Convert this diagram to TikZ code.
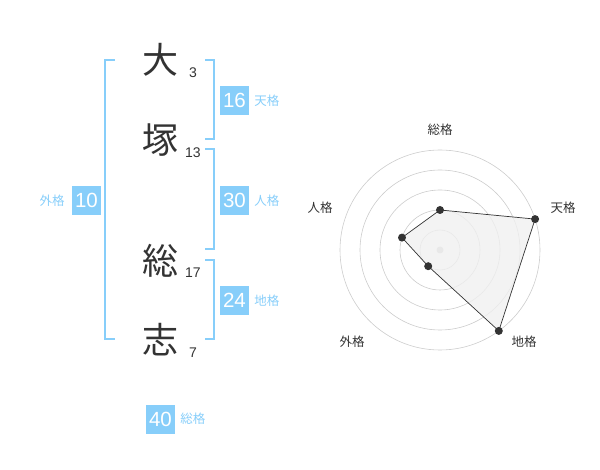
\documentclass[tikz,border=0pt]{standalone}
\usepackage{fontspec}
\setmainfont{Liberation Sans}
\newfontfamily\cjk{Noto Sans CJK JP}
\definecolor{sky}{HTML}{87CEFA}
\definecolor{ink}{HTML}{333333}
\definecolor{ringgray}{HTML}{CCCCCC}
\definecolor{areagray}{HTML}{F0F0F0}
\begin{document}
\begin{tikzpicture}[x=1pt,y=-1pt]
\useasboundingbox (0,0) rectangle (600,470);
\tikzset{
 kanji/.style={font=\cjk\fontsize{36}{36}\selectfont, text=ink, inner sep=0},
 strk/.style={font=\fontsize{14}{14}\selectfont, text=ink, inner sep=0},
 numbox/.style={fill=sky, text=white, minimum width=29pt, minimum height=29pt, inner sep=0, font=\fontsize{20.5}{20.5}\selectfont},
 kaku/.style={text=sky, font=\cjk\fontsize{12.5}{12.5}\selectfont, inner sep=0},
 brk/.style={draw=sky, line width=2pt},
 ring/.style={draw=ringgray, line width=0.6pt},
 axlab/.style={text=ink, font=\cjk\fontsize{12.5}{12.5}\selectfont, inner sep=0},
 vdot/.style={circle, fill=ink, inner sep=0, minimum size=8pt}
}
% characters
\node[kanji] (k1) at (160,60) {大};
\node[kanji] (k2) at (160,140) {塚};
\node[kanji] (k3) at (160,261) {総};
\node[kanji] (k4) at (160,340) {志};
\node[strk] (s1) at (193,73) {3};
\node[strk] (s2) at (193,153) {13};
\node[strk] (s3) at (193,273) {17};
\node[strk] (s4) at (193,353) {7};
% brackets
\draw[brk] (115,60) -- (105,60) -- (105,339) -- (115,339);
\draw[brk] (205,60) -- (214,60) -- (214,139) -- (205,139);
\draw[brk] (205,149) -- (214,149) -- (214,249) -- (205,249);
\draw[brk] (205,260) -- (214,260) -- (214,339) -- (205,339);
% boxes
\node[numbox] (b1) at (234.5,100.5) {16};
\node[kaku, anchor=west] (l1) at ([xshift=5pt]b1.east) {天格};
\node[numbox] (b2) at (234.5,200.5) {30};
\node[kaku, anchor=west] (l2) at ([xshift=5pt]b2.east) {人格};
\node[numbox] (b3) at (234.5,300.5) {24};
\node[kaku, anchor=west] (l3) at ([xshift=5pt]b3.east) {地格};
\node[numbox] (b4) at (86.5,200.5) {10};
\node[kaku, anchor=east] (l4) at ([xshift=-7pt]b4.west) {外格};
\node[numbox] (b5) at (160.5,419) {40};
\node[kaku, anchor=west] (l5) at ([xshift=5pt]b5.east) {総格};
% radar
\coordinate (c) at (440,250);
\foreach \r in {20,40,60,80,100} \draw[ring] (c) circle[radius=\r pt];
\fill[ringgray] (c) circle[radius=3.5pt];
\coordinate (v1) at (440,210);
\coordinate (v2) at (535.1,219.1);
\coordinate (v3) at (498.8,330.9);
\coordinate (v4) at (428.2,266.2);
\coordinate (v5) at (402.0,237.6);
\draw[ink, fill=areagray, fill opacity=0.8, line width=0.7pt] (v1) -- (v2) -- (v3) -- (v4) -- (v5) -- cycle;
\foreach \v in {v1,v2,v3,v4,v5} \node[vdot] at (\v) {};
\node[axlab] (a1) at (440,130) {総格};
\node[axlab] (a2) at (563,208) {天格};
\node[axlab] (a3) at (524,342) {地格};
\node[axlab] (a4) at (352,342) {外格};
\node[axlab] (a5) at (320,208) {人格};
\end{tikzpicture}
\end{document}
